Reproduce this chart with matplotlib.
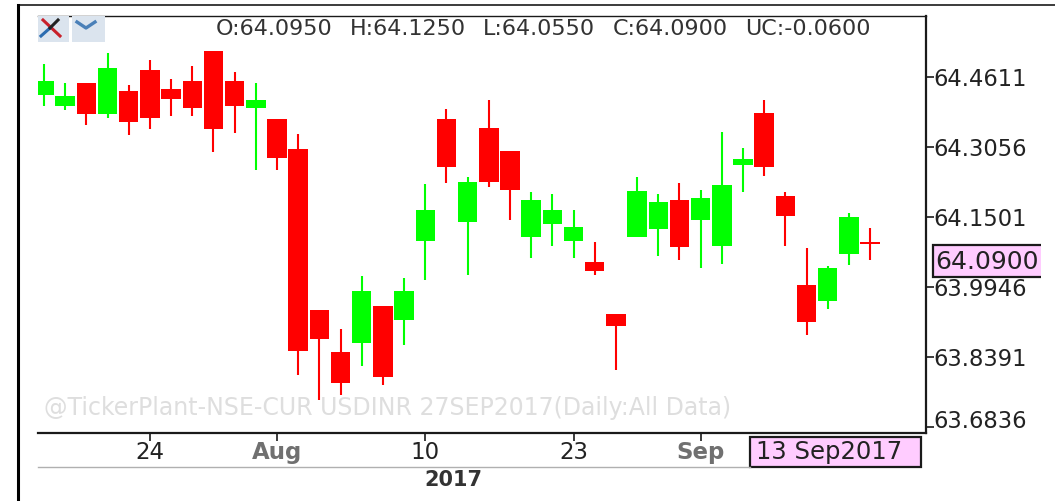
import matplotlib
matplotlib.use('Agg')
import matplotlib.pyplot as plt
from matplotlib.patches import Rectangle
from matplotlib.transforms import ScaledTranslation

W, H = 1055, 501

opens = [64.4211, 64.3967, 64.4478, 64.3789, 64.4300, 64.4766, 64.4344, 64.4522, 64.5189, 64.4522,
         64.3922, 64.3678, 64.3012, 63.9435, 63.8502, 63.8702, 63.9524, 63.9213, 64.0968, 64.3678,
         64.1390, 64.3478, 64.2967, 64.1057, 64.1345, 64.0968, 64.0501, 63.9346, 64.1057, 64.1234,
         64.1879, 64.1434, 64.0857, 64.2656, 64.3811, 64.1968, 63.9990, 63.9635, 64.0679, 64.0950]
highs = [64.4900, 64.4478, 64.4478, 64.5144, 64.4433, 64.4989, 64.4567, 64.4855, 64.5189, 64.4722,
         64.4478, 64.3678, 64.3345, 63.9435, 63.9013, 64.0190, 63.9524, 64.0146, 64.2234, 64.3900,
         64.2390, 64.4100, 64.2967, 64.2056, 64.2012, 64.1656, 64.0946, 63.9346, 64.2390, 64.2012,
         64.2256, 64.2101, 64.3389, 64.3034, 64.4100, 64.2056, 64.0812, 64.0412, 64.1590, 64.1250]
lows = [64.3967, 64.3878, 64.3545, 64.3700, 64.3323, 64.3456, 64.3745, 64.3745, 64.2945, 64.3367,
        64.2545, 64.2545, 63.7991, 63.7436, 63.7547, 63.8191, 63.7769, 63.8658, 64.0102, 64.2256,
        64.0213, 64.2167, 64.1434, 64.0590, 64.0857, 64.0590, 64.0213, 63.8102, 64.1057, 64.0635,
        64.0546, 64.0368, 64.0457, 64.2056, 64.2412, 64.0857, 63.8880, 63.9457, 64.0435, 64.0550]
closes = [64.4522, 64.4189, 64.3789, 64.4811, 64.3611, 64.3700, 64.4122, 64.3922, 64.3456, 64.3967,
          64.4100, 64.2812, 63.8524, 63.8791, 63.7814, 63.9857, 63.7947, 63.9857, 64.1656, 64.2612,
          64.2279, 64.2279, 64.2101, 64.1879, 64.1656, 64.1279, 64.0301, 63.9080, 64.2079, 64.1834,
          64.0835, 64.1923, 64.2212, 64.2790, 64.2612, 64.1523, 63.9169, 64.0368, 64.1501, 64.0900]

price_ticks = [64.4611, 64.3056, 64.1501, 63.9946, 63.8391, 63.6836]
price_labels = ['64.4611', '64.3056', '64.1501', '63.9946', '63.8391', '63.6836']
date_ticks = [5, 11, 18, 25, 31]
date_labels = ['24', 'Aug', '10', '23', 'Sep']
month_labels = ['Aug', 'Sep']
ohlc_text = ['O:64.0950', 'H:64.1250', 'L:64.0550', 'C:64.0900', 'UC:-0.0600']

fig = plt.figure(figsize=(W / 100, H / 100), dpi=100, facecolor='white')
ax = fig.add_axes([38 / W, (H - 433) / H, 888 / W, 417 / H])

up = [c >= o for o, c in zip(opens, closes)]
colors = ['#00ff00' if u else '#ff0000' for u in up]
xs = list(range(len(opens)))

ax.vlines(xs, lows, highs, colors=colors, linewidth=1.5, zorder=3)
ax.bar(xs, [abs(c - o) for o, c in zip(opens, closes)],
       bottom=[min(o, c) for o, c in zip(opens, closes)],
       width=0.92, color=colors, linewidth=0, zorder=3)

ax.set_xlim(-0.283, 41.64)
ax.set_ylim(63.6703, 64.5966)

ax.spines['left'].set_visible(False)
ax.spines['top'].set_linewidth(1.0)
ax.spines['right'].set_linewidth(1.6)
ax.spines['bottom'].set_linewidth(1.6)
for side in ['top', 'right', 'bottom']:
    ax.spines[side].set_color('#1a1a1a')

ax.yaxis.tick_right()
ax.set_yticks(price_ticks)
ax.set_yticklabels(price_labels, fontsize=16.3, color='#222222')
ax.tick_params(axis='y', length=5.5, width=1.2, color='#1a1a1a', pad=0)
# last label sits above its tick in the original
last = ax.get_yticklabels()[-1]
last.set_transform(last.get_transform() + ScaledTranslation(0, 0.08, fig.dpi_scale_trans))

ax.set_xticks(date_ticks)
ax.set_xticklabels(date_labels, fontsize=16.5, color='#222222')
ax.tick_params(axis='x', length=5.5, width=1.2, color='#1a1a1a', pad=0)
for lab in ax.get_xticklabels():
    if lab.get_text() in month_labels:
        lab.set_fontweight('bold')
        lab.set_color('#707070')

ax.text(44 / W, (H - 408) / H, '@TickerPlant-NSE-CUR USDINR 27SEP2017(Daily:All Data)', color='#dedede',
        fontsize=17, transform=fig.transFigure, va='center', ha='left', zorder=1)

# chrome around the plot, in pixel coordinates
px = fig.add_axes([0, 0, 1, 1], zorder=5)
px.set_xlim(0, W)
px.set_ylim(H, 0)
px.axis('off')
px.patch.set_alpha(0)

px.plot([18, W], [5, 5], color='#1a1a1a', lw=1.2)
px.plot([18, 18], [5, H], color='black', lw=2.2)
px.plot([38, 750], [467, 467], color='#b0b0b0', lw=1.0)

px.add_patch(Rectangle((38, 16), 31, 26, fc='#dbe4ee', ec='none'))
px.add_patch(Rectangle((72, 16), 33, 26, fc='#dbe4ee', ec='none'))
px.plot([43, 60], [20, 36], color='#c8202a', lw=2.2)
px.plot([41, 50], [36, 28], color='#2b6cb0', lw=2.2)
px.plot([50, 58], [28, 20], color='#222222', lw=2.2)
px.plot([77, 86, 95], [22, 28, 22], color='#4a80b8', lw=2.4)

for label, x in zip(ohlc_text, [216, 350, 483, 613, 745]):
    px.text(x, 29, label, fontsize=16, color='#333333', va='center', ha='left')

px.add_patch(Rectangle((750, 437), 171, 30, fc='#ffccff', ec='#1a1a1a', lw=1.6))
px.text(756, 452, '13 Sep2017', fontsize=17.5, color='#222222', va='center', ha='left')
px.text(453, 480, '2017', fontsize=15, fontweight='bold', color='#333333', va='center', ha='center')

px.add_patch(Rectangle((933, 245), 130, 32, fc='#ffccff', ec='#1a1a1a', lw=1.6))
px.add_patch(Rectangle((1041, 240), 14, 42, fc='white', ec='none'))
px.text(935, 262, '64.0900', fontsize=18, color='#222222', va='center', ha='left')

fig.savefig('out.png', dpi=100)
